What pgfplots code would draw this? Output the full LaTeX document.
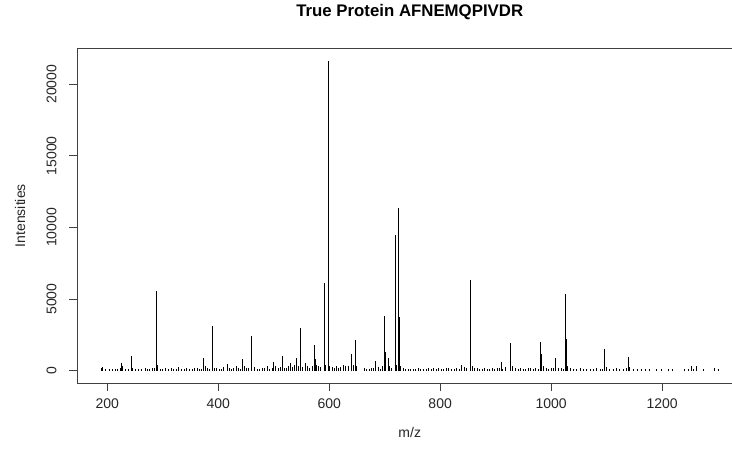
\documentclass[border=0pt]{standalone}
\usepackage{pgfplots}
\pgfplotsset{compat=1.18}
\usepackage{fontspec}
\setmainfont{Liberation Sans}
\begin{document}
\begin{tikzpicture}
\begin{axis}[
  scale only axis,
  width=655bp, height=334.7bp,
  at={(77bp,74bp)}, anchor=south west,
  xmin=145.5, xmax=1326,
  ymin=-866, ymax=22516,
  axis x line*=box, axis y line*=left,
  axis line style={black!75, line width=0.8bp},
  tick pos=left, tick align=outside,
  major tick length=8bp,
  every tick/.style={black!75, line width=0.8bp},
  xtick={200,400,600,800,1000,1200},
  ytick={0,5000,10000,15000,20000},
  scaled y ticks=false,
  /pgf/number format/assume math mode=true,
  /pgf/number format/set thousands separator={},
  ticklabel style={font=\fontsize{14bp}{16bp}\selectfont, text=black!85},
  xticklabel style={yshift=-4bp},
  yticklabel style={rotate=90, anchor=south, yshift=9bp},
  title={\bfseries True Protein AFNEMQPIVDR},
  title style={at={(0.508,1)}, anchor=base, yshift=26.3bp, font=\fontsize{16.8bp}{19bp}\selectfont},
  xlabel={m/z},
  xlabel style={at={(0.508,0)}, anchor=base, yshift=-54bp, font=\fontsize{14bp}{16bp}\selectfont, text=black!85},
  ylabel={Intensities},
  ylabel style={at={(0,0.5)}, anchor=base, yshift=52bp, font=\fontsize{14bp}{16bp}\selectfont, text=black!85},
  clip=false,
]
% small background peaks
\addplot[ycomb, black, line width=0.9bp] coordinates {
(190,150) (197,80) (204,120) (210,90) (215,140) (219,100) (224,200) (228,300) (233,110) (238,90)
(246,150) (251,80) (257,120) (262,100) (268,180) (272,130) (276,90) (281,150) (285,200) (291,300)
(295,120) (300,90) (305,150) (310,100) (316,200) (320,80) (325,130) (329,250) (334,110) (339,90)
(343,180) (348,120) (353,100) (357,150) (362,200) (366,90) (370,130) (377,300) (381,150) (385,100)
(393,200) (397,150) (402,130) (406,100) (410,250) (420,150) (424,110) (428,200) (437,150) (440,120)
(447,300) (451,200) (455,150) (465,250) (470,130) (474,100) (479,200) (483,150) (488,300) (493,120)
(497,200) (504,350) (508,150) (512,250) (519,200) (523,150) (527,300) (533,250) (537,400) (544,300)
(552,250) (561,350) (565,200) (569,300) (577,400) (581,300) (585,250) (593,400) (601,300) (605,250)
(609,200) (613,300) (617,150) (621,250) (630,300) (634,350) (643,400) (650,300) (663,150) (667,100)
(672,130) (676,200) (679,150) (688,250) (692,120) (696,300) (709,300) (712,200) (721,400) (728,350)
(733,150) (737,120) (742,100) (747,130) (751,90) (756,110) (760,150) (765,130) (770,100) (775,140)
(779,200) (784,130) (788,150) (793,110) (797,180) (802,130) (806,120) (811,150) (815,200) (820,130)
(825,110) (829,180) (834,130) (843,250) (848,150) (858,300) (862,200) (867,150) (871,130) (876,120)
(880,160) (885,110) (889,140) (894,180) (898,120) (903,150) (906,200) (913,130) (918,250) (931,300)
(936,150) (941,120) (945,180) (950,130) (954,110) (959,150) (963,200) (968,120) (972,150) (977,130)
(986,300) (991,150) (996,130) (1000,180) (1004,150) (1013,200) (1018,150) (1022,120) (1030,300) (1035,150)
(1040,130) (1046,110) (1052,150) (1058,120) (1064,100) (1070,140) (1076,110) (1082,160) (1088,120) (1092,100)
(1100,250) (1105,130) (1112,110) (1118,150) (1124,120) (1130,100) (1135,200) (1142,250) (1148,130) (1155,100)
(1162,120) (1170,90) (1178,110) (1190,100) (1198,120) (1212,90) (1218,110) (1240,80) (1248,100) (1256,120)
(1262,300) (1275,90) (1295,150) (1302,120)
};
% main peaks
\addplot[ycomb, black, line width=0.9bp] coordinates {
(191,250) (226,540) (243,1020) (289,5530) (290,400) (374,880) (389,3130) (416,470) (433,350) (443,810)
(460,2420) (500,580) (515,1000) (530,515) (540.6,880) (548,2970) (549,1790) (557,515) (573.5,1810) (574.5,810)
(591,6090) (598,21650) (599,515) (626,400) (639.6,1160) (647.9,2140) (683,650) (700,3830) (701,1280) (706,880)
(718.8,9450) (719.8,2900) (724.8,11330) (725.8,3760) (839,360) (854.4,6320) (855.4,2670) (909.6,580) (926.4,1930) (927.4,1000)
(981.6,2020) (982.6,1160) (1008.6,880) (1026,5340) (1027,2210) (1096,1510) (1097,880) (1138.8,975) (1139.8,530) (1253.5,330)
};
\end{axis}
\pgfresetboundingbox
\path[use as bounding box] (0,0) rectangle (732bp,457bp);
\end{tikzpicture}
\end{document}
